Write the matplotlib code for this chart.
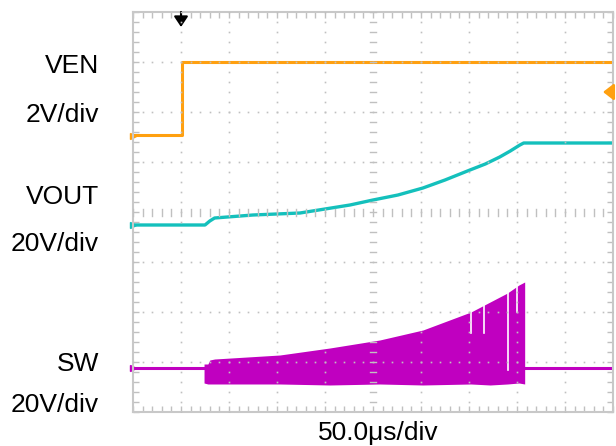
import numpy as np
import matplotlib.pyplot as plt

# time in us (50 us/div, 10 div), amplitude in screen divisions (8 div)
ven_t = [0, 51, 51, 500]
ven_v = [1.55, 1.55, 3.0, 3.0]

vout_t = [0, 75, 80, 85, 125, 174, 200, 226, 250, 276, 302, 325, 351, 367, 382, 393, 403, 407, 500]
vout_v = [-0.26, -0.26, -0.18, -0.12, -0.06, -0.02, 0.06, 0.14, 0.24, 0.34, 0.48, 0.64, 0.84, 0.96,
          1.10, 1.22, 1.34, 1.38, 1.38]

sw_base_t = [0, 74, 410, 500]
sw_base_v = [-3.12, -3.12, -3.12, -3.12]

# switching burst envelope
sw_env_t = [74, 78, 80, 85, 153, 205, 257, 302, 352, 372, 390, 402, 408]
sw_env_top = [-3.04, -3.04, -2.96, -2.94, -2.86, -2.72, -2.56, -2.36, -2.0, -1.8, -1.62, -1.46, -1.4]
sw_env_bot = [-3.42, -3.44, -3.44, -3.44, -3.44, -3.46, -3.44, -3.46, -3.44, -3.46, -3.44, -3.42, -3.44]

# missing pulses (gaps in burst): time, top, bottom
gap_t = [352, 366, 391, 400]
gap_top = [-2.0, -1.82, -1.6, -1.5]
gap_bot = [-2.42, -2.42, -3.16, -2.0]

ground_levels = [1.52, -0.26, -3.12]
trig_time = 50
trig_level = 2.4

c_ven = '#ffa010'
c_vout = '#14c0bc'
c_sw = '#c000c0'
c_grid = '#c0c0c0'

fig = plt.figure(figsize=(6.16, 4.46), dpi=100)
ax = fig.add_axes([133 / 616, 34 / 446, 480 / 616, 400 / 446])
ax.set_xlim(0, 500)
ax.set_ylim(-4, 4)

# dotted graticule (drawn over traces like the scope does)
minor_x = np.arange(0, 501, 10)
minor_y = np.arange(-4, 4.01, 0.2)
for gx in range(50, 500, 50):
    if gx != 250:
        ax.plot(np.full(minor_y.size, gx), minor_y, ls='none', marker='s', ms=1.2,
                color=c_grid, mew=0, zorder=5)
for gy in range(-3, 4):
    if gy != 0:
        ax.plot(minor_x, np.full(minor_x.size, gy), ls='none', marker='s', ms=1.2,
                color=c_grid, mew=0, zorder=5)
# center crosshair ticks
for mx in minor_x:
    ax.plot([mx, mx], [-0.07, 0.07], color=c_grid, lw=1, zorder=5)
for my in minor_y:
    ax.plot([246.4, 253.6], [my, my], color=c_grid, lw=1, zorder=5)

ax.set_xticks(np.arange(0, 501, 10))
ax.set_yticks(np.arange(-4, 4.01, 0.2))
ax.tick_params(direction='in', length=4, width=1, color=c_grid,
               top=True, right=True, labelbottom=False, labelleft=False)
for s in ax.spines.values():
    s.set_color('#c8c8c8')
    s.set_linewidth(1.5)

# traces
ax.plot(ven_t, ven_v, color=c_ven, lw=2.2)
ax.plot(vout_t, vout_v, color=c_vout, lw=2.4)
ax.plot(sw_base_t, sw_base_v, color=c_sw, lw=2.2)
ax.fill_between(sw_env_t, sw_env_bot, sw_env_top, color=c_sw, lw=0)
for t, top, bot in zip(gap_t, gap_top, gap_bot):
    ax.plot([t, t], [bot, top], color='white', lw=1.2)

# markers
for lvl, c in zip(ground_levels, [c_ven, c_vout, c_sw]):
    ax.plot([0], [lvl], marker='>', ms=5, color=c, clip_on=False)
ax.annotate('', xy=(trig_time, 3.7), xytext=(trig_time, 4.0),
            arrowprops=dict(arrowstyle='-|>,head_width=0.3,head_length=0.45',
                            color='black', lw=1.5, mutation_scale=14,
                            shrinkA=0, shrinkB=0))
ax.annotate('', xy=(489.6, trig_level), xytext=(500, trig_level),
            arrowprops=dict(arrowstyle='-|>,head_width=0.35,head_length=0.45',
                            color=c_ven, lw=1.8, mutation_scale=14,
                            shrinkA=0, shrinkB=0))

# labels
font = dict(fontsize=19, family='Liberation Sans', ha='right', va='center')
fig.text(99 / 616, 1 - 66 / 446, 'VEN', **font)
fig.text(99 / 616, 1 - 115 / 446, '2V/div', **font)
fig.text(99 / 616, 1 - 197 / 446, 'VOUT', **font)
fig.text(99 / 616, 1 - 244 / 446, '20V/div', **font)
fig.text(99 / 616, 1 - 364 / 446, 'SW', **font)
fig.text(99 / 616, 1 - 405 / 446, '20V/div', **font)
fig.text(378 / 616, 1 - 433 / 446, '50.0\u03bcs/div', fontsize=19, family='Liberation Sans',
         ha='center', va='center')

plt.savefig('out.png', dpi=100)
